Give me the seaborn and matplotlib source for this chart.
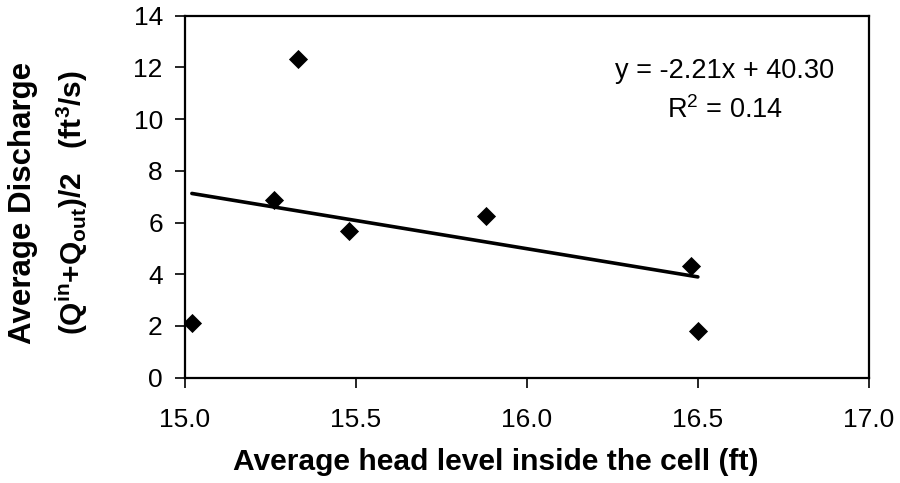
import numpy as np
import pandas as pd
import matplotlib
matplotlib.use("Agg")
import matplotlib.pyplot as plt
import seaborn as sns

# ---- data ----
head_level = [15.02, 15.26, 15.33, 15.48, 15.88, 16.48, 16.50]
discharge = [2.12, 6.89, 12.32, 5.68, 6.26, 4.31, 1.81]
x_ticks = [15.0, 15.5, 16.0, 16.5, 17.0]
y_ticks = [0, 2, 4, 6, 8, 10, 12, 14]
x_label = "Average head level inside the cell (ft)"
y_label_line1 = "Average Discharge"
y_label_line2 = r"$\mathbf{(Q^{in}{+}Q_{out})/2\ \ \ (ft^{3}/s)}$"
eq_text = "y = -2.21x + 40.30"
r2_text = r"R$^{2}$ = 0.14"

df = pd.DataFrame({"head": head_level, "q": discharge})

sns.set_theme(style="ticks")
plt.rcParams["font.family"] = ["Liberation Sans", "DejaVu Sans"]
plt.rcParams["mathtext.fontset"] = "custom"
plt.rcParams["mathtext.rm"] = "Liberation Sans"
plt.rcParams["mathtext.bf"] = "Liberation Sans:bold"
plt.rcParams["mathtext.it"] = "Liberation Sans:italic"

fig = plt.figure(figsize=(9, 4.83), dpi=100)
ax = fig.add_axes([0.2056, 0.218, 0.7597, 0.7495])

sns.regplot(data=df, x="head", y="q", ci=None, scatter=False, truncate=True,
            color="black", line_kws={"lw": 2.6}, ax=ax)
sns.scatterplot(data=df, x="head", y="q", marker="D", s=95, color="black",
                edgecolor="black", linewidth=0, ax=ax, zorder=3)

ax.set_xlim(15, 17)
ax.set_ylim(0, 14)
ax.set_xticks(x_ticks)
ax.set_xticklabels([f"{t:.1f}" for t in x_ticks])
ax.set_yticks(y_ticks)
ax.set_yticklabels([str(t) for t in y_ticks])
ax.tick_params(axis="both", direction="out", length=7, width=1.2,
               color="black", labelsize=19, labelcolor="black")
ax.tick_params(axis="x", pad=15)
ax.tick_params(axis="y", pad=9)
for sp in ax.spines.values():
    sp.set_visible(True)
    sp.set_color("black")
    sp.set_linewidth(1.6)

ax.set_ylabel("")
ax.set_xlabel(x_label, fontsize=21.6, fontweight="bold", color="black", va="center")
ax.xaxis.set_label_coords(0.4542, -0.233)

fig.text(0.026, 0.5797, y_label_line1, rotation=90, ha="center", va="center",
         fontsize=22.5, fontweight="bold", color="black")
fig.text(0.080, 0.5797, y_label_line2, rotation=90, ha="center", va="center",
         fontsize=21.5, color="black")

ax.text(16.577, 11.86, eq_text, ha="center", va="center", fontsize=19.5, color="black")
ax.text(16.58, 10.35, r2_text, ha="center", va="center", fontsize=19.5, color="black")

fig.savefig("out.png", dpi=100)
